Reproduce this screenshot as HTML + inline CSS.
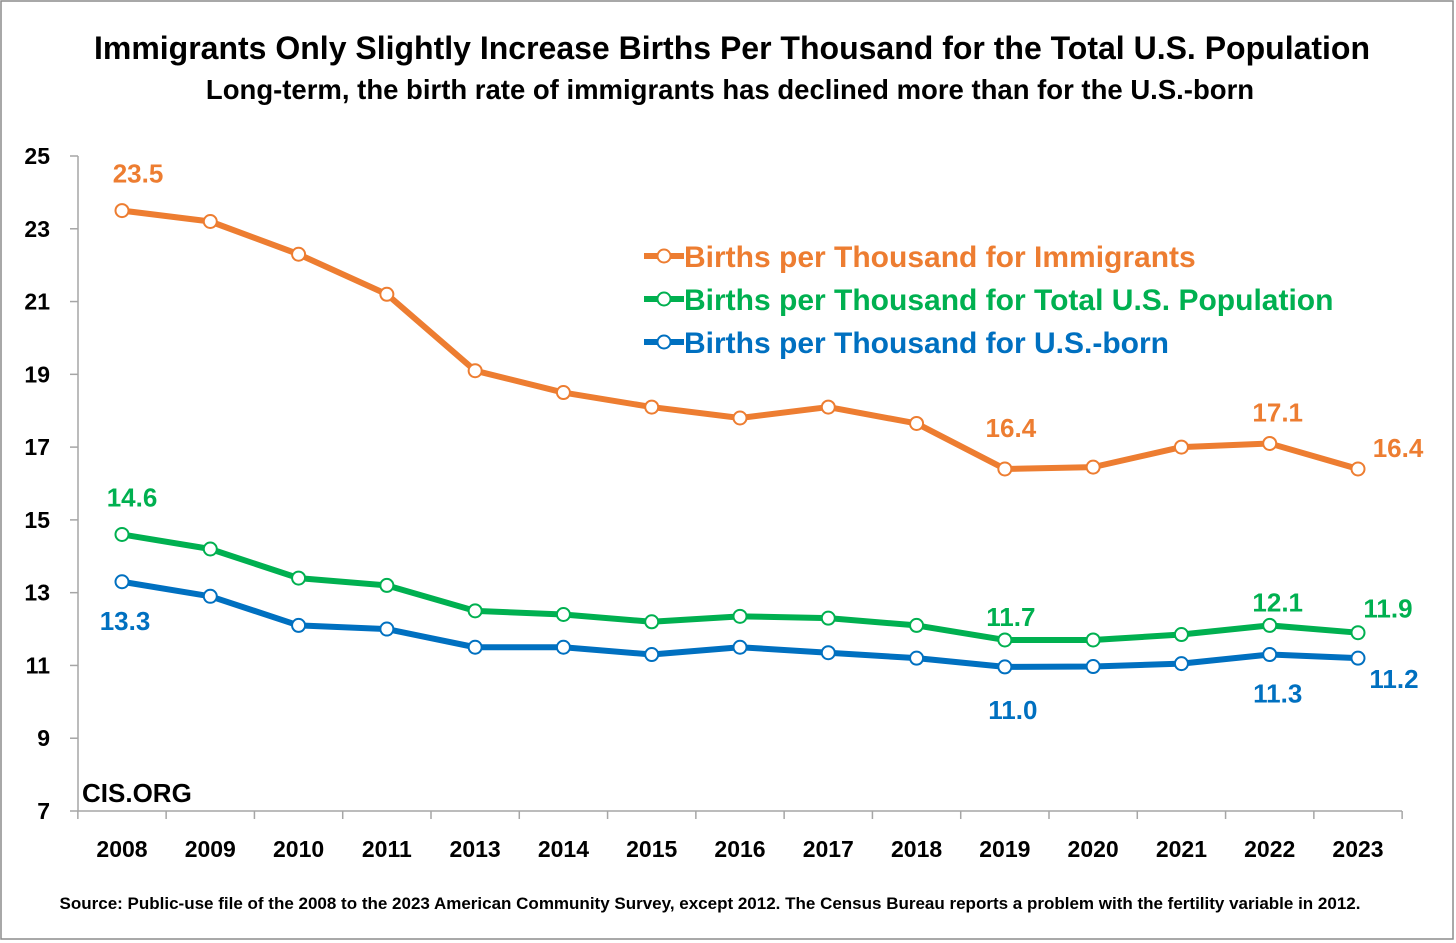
<!DOCTYPE html>
<html><head><meta charset="utf-8"><style>
body{margin:0;background:#fff;}
svg{display:block;font-family:"Liberation Sans",Arial,sans-serif;}
</style></head><body>
<svg id="chart" width="1456" height="943">
<rect x="1" y="1" width="1452" height="938" fill="#fff" stroke="#8c8c8c" stroke-width="1.5"/>
<text x="732" y="59" text-anchor="middle" font-size="32" font-weight="bold" fill="#000">Immigrants Only Slightly Increase Births Per Thousand for the Total U.S. Population</text>
<text x="730" y="99" text-anchor="middle" font-size="27.5" font-weight="bold" fill="#000">Long-term, the birth rate of immigrants has declined more than for the U.S.-born</text>
<text x="82" y="802" font-size="26" font-weight="bold" fill="#000">CIS.ORG</text>
<text x="710" y="909" text-anchor="middle" font-size="17" font-weight="bold" fill="#000">Source: Public-use file of the 2008 to the 2023 American Community Survey, except 2012.  The Census Bureau reports a problem with the fertility variable in 2012.</text>
<g id="axes"></g><g id="series"></g><g id="legend"></g>
</svg>
<script>
const categories=["2008","2009","2010","2011","2013","2014","2015","2016","2017","2018","2019","2020","2021","2022","2023"];
const immigrants=[23.5,23.2,22.3,21.2,19.1,18.5,18.1,17.8,18.1,17.65,16.4,16.45,17.0,17.1,16.4];
const total=[14.6,14.2,13.4,13.2,12.5,12.4,12.2,12.35,12.3,12.1,11.7,11.7,11.85,12.1,11.9];
const usborn=[13.3,12.9,12.1,12.0,11.5,11.5,11.3,11.5,11.35,11.2,10.96,10.97,11.05,11.3,11.2];
const yTicks=[7,9,11,13,15,17,19,21,23,25];
const NS="http://www.w3.org/2000/svg";
const x0=122,dx=(1358-122)/14;
function xs(i){return x0+i*dx;}
function ys(v){return 811-(v-7)*(811-156)/18;}
function mk(tag,attrs,parent,text){const e=document.createElementNS(NS,tag);for(const k in attrs)e.setAttribute(k,attrs[k]);if(text!==undefined)e.textContent=text;parent.appendChild(e);return e;}
const ax=document.getElementById('axes');
let e=mk('line',{x1:78,x2:1402,y1:811,y2:811,stroke:'#a6a6a6','stroke-width':1.5},ax);


e=mk('line',{x1:78,x2:78,y1:156,y2:811,stroke:'#a6a6a6','stroke-width':1.5},ax);


yTicks.forEach(t=>{
 mk('line',{x1:70,x2:78,y1:ys(t),y2:ys(t),stroke:'#a6a6a6','stroke-width':1.5},ax);
 const l=mk('text',{x:50,y:ys(t)+8,'text-anchor':'end','font-size':23,'font-weight':'bold'},ax,String(t));
 
 
});
for(let i=0;i<=categories.length;i++){const bx=x0-dx/2+i*dx;mk('line',{x1:bx,x2:bx,y1:811,y2:819,stroke:'#a6a6a6','stroke-width':1.5},ax);}
categories.forEach((c,i)=>{
 const l=mk('text',{x:xs(i),y:857,'text-anchor':'middle','font-size':23,'font-weight':'bold'},ax,c);
 
 
});
const sg=document.getElementById('series');
const series=[
 {name:'immigrants',data:immigrants,color:'#ED7D31',labels:{0:[16,-28],10:[6,-32],13:[8,-22],14:[40,-12]}},
 {name:'total-population',data:total,color:'#00B050',labels:{0:[10,-28],10:[6,-14],13:[8,-14],14:[30,-15]}},
 {name:'us-born',data:usborn,color:'#0070C0',labels:{0:[3,48],10:[8,52],13:[8,48],14:[36,30]}}
];
series.forEach(s=>{
 const pts=s.data.map((v,i)=>xs(i)+','+ys(v)).join(' ');
 const pl=mk('polyline',{points:pts,fill:'none',stroke:s.color,'stroke-width':6,'stroke-linejoin':'round'},sg);
 
 
 s.data.forEach((v,i)=>{
  const c=mk('circle',{cx:xs(i),cy:ys(v),r:6.5,fill:'#fff',stroke:s.color,'stroke-width':2},sg);
  
  
 });
 for(const k in s.labels){const i=+k,o=s.labels[k];
  const t=mk('text',{x:xs(i)+o[0],y:ys(s.data[i])+o[1],'text-anchor':'middle','font-size':26,'font-weight':'bold',fill:s.color},sg,s.data[i].toFixed(1));
  
  
 }
});
const lg=document.getElementById('legend');
const legendNames=["Births per Thousand for Immigrants","Births per Thousand for Total U.S. Population","Births per Thousand for U.S.-born"];
series.forEach((s,k)=>{
 const y=256+k*43;
 mk('line',{x1:644,x2:684,y1:y,y2:y,stroke:s.color,'stroke-width':6},lg);
 mk('circle',{cx:664,cy:y,r:6.5,fill:'#fff',stroke:s.color,'stroke-width':2},lg);
 const t=mk('text',{x:684,y:y+11,'font-size':30,'font-weight':'bold',fill:s.color},lg,legendNames[k]);
 
 
});
</script>
</body></html>
